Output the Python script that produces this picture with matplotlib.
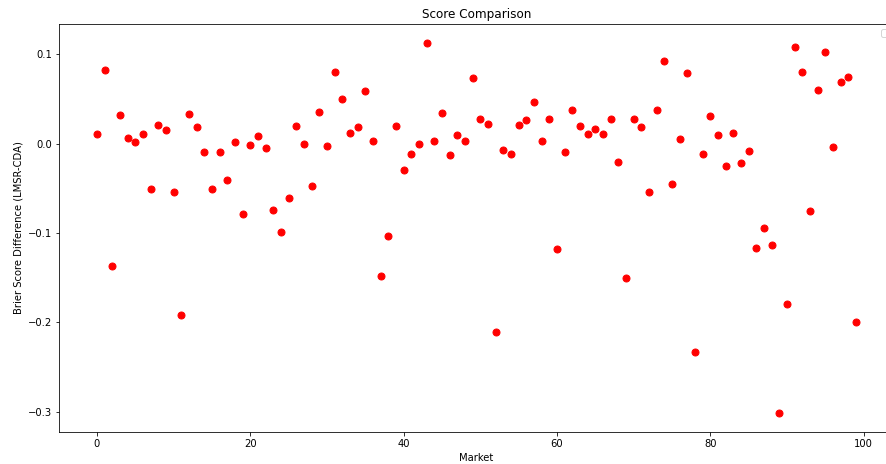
import matplotlib
matplotlib.use("Agg")
import matplotlib.pyplot as plt

markets = list(range(100))
score_diff = [
    0.011, 0.082, -0.137, 0.032, 0.006, 0.002, 0.011, -0.051, 0.021, 0.015,
    -0.054, -0.192, 0.033, 0.019, -0.010, -0.051, -0.010, -0.041, 0.002, -0.079,
    -0.002, 0.008, -0.005, -0.074, -0.099, -0.061, 0.020, 0.000, -0.048, 0.035,
    -0.003, 0.080, 0.050, 0.012, 0.018, 0.059, 0.003, -0.148, -0.103, 0.020,
    -0.030, -0.012, 0.000, 0.113, 0.003, 0.034, -0.013, 0.009, 0.003, 0.073,
    0.028, 0.022, -0.211, -0.007, -0.012, 0.021, 0.026, 0.047, 0.003, 0.027,
    -0.118, -0.009, 0.038, 0.020, 0.011, 0.016, 0.011, 0.028, -0.021, -0.150,
    0.027, 0.018, -0.054, 0.037, 0.092, -0.045, 0.005, 0.079, -0.233, -0.012,
    0.031, 0.010, -0.025, 0.012, -0.022, -0.008, -0.117, -0.094, -0.113, -0.302,
    -0.179, 0.108, 0.080, -0.076, 0.060, 0.102, -0.004, 0.069, 0.074, -0.200,
]

W, H = 886, 464
dpi = 72
fig = plt.figure(figsize=(W / dpi, H / dpi), dpi=dpi)
left_px, right_px, top_px, bottom_px = 59, 894, 24, 432
ax = fig.add_axes([left_px / W, 1 - bottom_px / H,
                   (right_px - left_px) / W, (bottom_px - top_px) / H])
ax.plot(markets, score_diff, 'o', color='red', markersize=7)
ax.set_title("Score Comparison")
ax.set_xlabel("Market")
ax.set_ylabel("Brier Score Difference (LMSR-CDA)")
ax.set_xticks([0, 20, 40, 60, 80, 100])
ax.set_yticks([-0.3, -0.2, -0.1, 0.0, 0.1])
ax.legend(handles=[], loc='upper right')
fig.savefig("out.png", dpi=dpi)
